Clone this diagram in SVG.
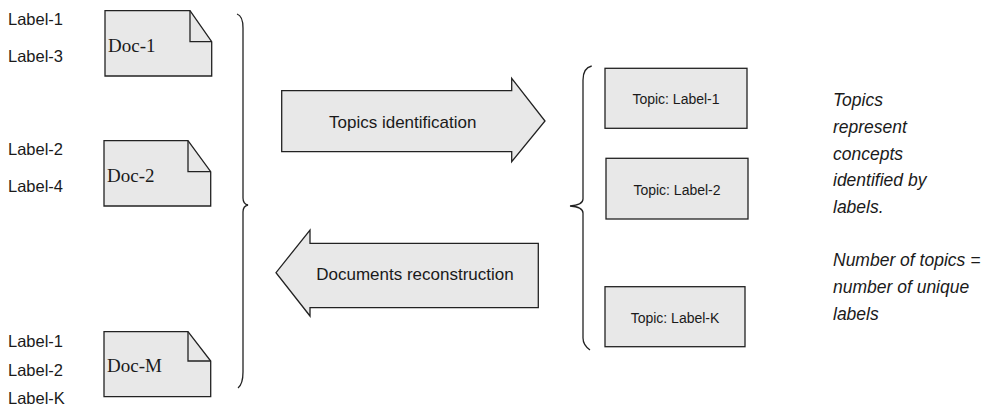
<svg xmlns="http://www.w3.org/2000/svg" width="981" height="407" viewBox="0 0 981 407">
<style>
.shape{fill:#e8e8e8;stroke:#222;stroke-width:1.3}
.fold{fill:none;stroke:#222;stroke-width:1.3}
.brace{fill:none;stroke:#222;stroke-width:1.3}
.lbl{font-family:"Liberation Sans",Arial,sans-serif;font-size:16.5px;fill:#1a1a1a}
.doc{font-family:"Liberation Serif","Times New Roman",serif;font-size:19px;fill:#1a1a1a}
.arr{font-family:"Liberation Sans",Arial,sans-serif;font-size:17px;fill:#1a1a1a;text-anchor:middle}
.top{font-family:"Liberation Sans",Arial,sans-serif;font-size:14px;fill:#1a1a1a;text-anchor:middle}
.note{font-family:"Liberation Sans",Arial,sans-serif;font-size:17.5px;font-style:italic;fill:#1a1a1a}
</style>
<rect width="981" height="407" fill="#fff"/>
<g id="labels-doc1">
<text class="lbl" x="8" y="25">Label-1</text>
<text class="lbl" x="8" y="62">Label-3</text>
</g>
<g id="doc1">
<path class="shape" d="M105,10.7 H190 L211.7,41.7 V76 H105 Z"/>
<path class="fold" d="M190,10.7 V41.7 H211.7"/>
<text class="doc" x="108" y="51.7">Doc-1</text>
</g>
<g id="labels-doc2">
<text class="lbl" x="8" y="155">Label-2</text>
<text class="lbl" x="8" y="192">Label-4</text>
</g>
<g id="doc2">
<path class="shape" d="M104,140.7 H188 L210.7,171.7 V206 H104 Z"/>
<path class="fold" d="M188,140.7 V171.7 H210.7"/>
<text class="doc" x="107" y="181.7">Doc-2</text>
</g>
<g id="labels-docM">
<text class="lbl" x="8" y="347">Label-1</text>
<text class="lbl" x="8" y="376">Label-2</text>
<text class="lbl" x="8" y="404">Label-K</text>
</g>
<g id="docM">
<path class="shape" d="M104,331.7 H188 L210.7,361 V396.7 H104 Z"/>
<path class="fold" d="M188,331.7 V361 H210.7"/>
<text class="doc" x="107" y="371.7">Doc-M</text>
</g>
<g id="connectors">
<path class="brace" d="M237,14 Q243,16 243,28 L243,198 Q243,204 248,205 Q243,206 243,212 L243,372 Q243,384 238,388"/>
<path class="brace" d="M591.7,66 Q583,68 583,80 L583,199 Q583,205 570,206 Q583,207 583,213 L583,338 Q583,345 590,350"/>
</g>
<g id="arrow-topics">
<path class="shape" d="M281.7,90.7 H511.7 V78.3 L545,121 L511.7,161.7 V151.7 H281.7 Z"/>
<text class="arr" x="402.7" y="128.3">Topics identification</text>
</g>
<g id="arrow-docs">
<path class="shape" d="M538.3,243.3 H310 V230 L276,272.7 L310,316 V307.7 H538.3 Z"/>
<text class="arr" x="415" y="280">Documents reconstruction</text>
</g>
<g id="topic1">
<rect class="shape" x="605" y="68.3" width="142" height="60"/>
<text class="top" x="676" y="104">Topic: Label-1</text>
</g>
<g id="topic2">
<rect class="shape" x="606" y="158.3" width="142" height="60.7"/>
<text class="top" x="677" y="195">Topic: Label-2</text>
</g>
<g id="topicK">
<rect class="shape" x="605" y="286.7" width="140" height="60"/>
<text class="top" x="675" y="322.7">Topic: Label-K</text>
</g>
<g id="note">
<text class="note" x="833" y="106">Topics</text>
<text class="note" x="833" y="133">represent</text>
<text class="note" x="833" y="159.5">concepts</text>
<text class="note" x="833" y="186">identified by</text>
<text class="note" x="833" y="212.7">labels.</text>
<text class="note" x="833" y="266">Number of topics =</text>
<text class="note" x="833" y="293">number of unique</text>
<text class="note" x="833" y="320">labels</text>
</g>
</svg>
